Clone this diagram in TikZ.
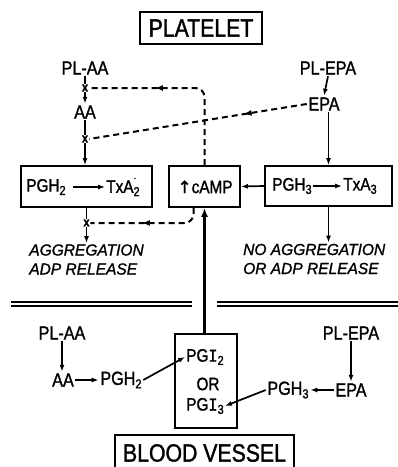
\documentclass[tikz,border=0pt]{standalone}
\usepackage{fontspec}
\usetikzlibrary{arrows.meta,decorations.markings}
% lettering: a slightly condensed, slightly heavy grotesque
\newfontfamily\lett[FakeStretch=0.85, FakeBold=1.3]{Liberation Sans}
\newfontfamily\lettit[FakeStretch=0.97, FakeBold=1.2]{Liberation Sans}
\newfontfamily\symfont[FakeBold=1]{DejaVu Sans}
\newfontfamily\serifI[FakeStretch=0.85, FakeBold=1.3]{Liberation Mono}
\newcommand\sbs[1]{\raisebox{-0.35ex}{\fontsize{13}{13}\selectfont #1}}
\newcommand\seI{{\serifI I}}
\newcommand\hdot{\makebox[0pt][l]{\raisebox{1.45ex}{\fontsize{11}{11}\selectfont .}}}
\tikzset{
  lbl/.style={font=\lett\fontsize{19}{19}\selectfont, inner sep=1.5pt},
  boxlbl/.style={font=\lett\fontsize{18}{18}\selectfont, inner sep=1pt},
  title/.style={draw, line width=1.6pt, font=\lett\fontsize{25}{25}\selectfont, inner sep=0pt},
  frame/.style={draw, line width=1.8pt, inner sep=0pt},
  note/.style={font=\lettit\itshape\fontsize{16}{19}\selectfont, align=left, inner sep=1pt},
  cross/.style={font=\lett\bfseries\fontsize{13}{13}\selectfont, fill=white, inner sep=0.6pt},
  flow/.style={line width=1.7pt, -{Latex[length=7pt,width=5pt]}},
  bigflow/.style={line width=2.3pt, -{Latex[length=9pt,width=7pt]}},
  inhib/.style={line width=2pt, dash pattern=on 6pt off 4pt, rounded corners=9pt,
    postaction={decorate},
    decoration={markings, mark=at position #1 with {\arrow{Latex[length=8pt,width=6pt]}}}},
  inhib/.default=0.5,
  sep/.style={line width=1.5pt}
}
\begin{document}
\begin{tikzpicture}[x=1pt,y=-1pt]
\useasboundingbox[fill=white] (0,0) rectangle (398,467);

% ---- platelet compartment ----
\node[title, minimum width=122pt, minimum height=32pt] (platelet) at (201,28) {PLATELET};

\node[lbl] (plaa) at (85,68) {PL-AA};
\node[lbl] (aa) at (85,112) {AA};
\node[lbl] (plepa) at (328,68) {PL-EPA};
\node[lbl] (epa) at (324,104) {EPA};

\node[frame, minimum width=131pt, minimum height=41pt] (pgh2b) at (86.5,186.5) {};
\node[boxlbl] (pgh2t) at (46,187) {PGH\sbs{2}};
\node[boxlbl] (txa2) at (123,187) {TxA\hdot\sbs{2}};

\node[frame, minimum width=71pt, minimum height=41pt] (campb) at (204.5,186.5) {};
\node[boxlbl] (camp) at (205,187) {{\symfont\fontsize{17}{17}\selectfont ↑}cAMP};

\node[frame, minimum width=127pt, minimum height=40pt] (pgh3b) at (328.5,186) {};
\node[boxlbl] (pgh3t) at (292,186) {PGH\sbs{3}};
\node[boxlbl] (txa3) at (360,186) {TxA\sbs{3}};

\node[cross] (xa) at (85,88) {x};
\node[cross] (xb) at (85,139) {x};
\node[cross] (xc) at (86.5,223) {x};

\node[note] (agg) at (86.5,259.5) {AGGREGATION\\ADP RELEASE};
\node[note, anchor=west] (noagg) at (242,259) {NO AGGREGATION\\OR ADP RELEASE};

% solid pathways
\draw[flow] (plaa.south) -- (aa.north);
\draw[flow] (aa.south) -- (aa.south |- pgh2b.north);
\draw[flow] (pgh2b.south) -- (pgh2b.south |- agg.north);
\draw[flow, shorten <=6pt] (pgh2t.east) -- (txa2.west);
\draw[flow] (pgh3t.east) -- (txa3.west);
\draw[flow] (plepa.south) -- (epa.north);
\draw[flow] (epa.south -| pgh3b.north) -- (pgh3b.north);
\draw[flow] (pgh3b.west) -- (campb.east);
\draw[flow] (pgh3b.south) -- (pgh3b.south |- noagg.north);

% inhibitory (dashed) pathways
\draw[inhib=0.65] (campb.north) -- (campb.north |- xa) -- (xa.east);
\draw[inhib=0.29] (epa.west) -- (xb.east);
\draw[inhib=0.55] ([xshift=-11pt]campb.south) -- ([xshift=-11pt]campb.south |- xc) -- (xc.east);

% redraw crosses above the lines
\node[cross] at (xa) {x};
\node[cross] at (xb) {x};
\node[cross] at (xc) {x};

% ---- separating double lines ----
\draw[sep] (11,302) -- (192,302);
\draw[sep] (11,306) -- (192,306);
\draw[sep] (217,302) -- (398,302);
\draw[sep] (217,306) -- (398,306);

% ---- blood vessel compartment ----
\node[frame, minimum width=62pt, minimum height=94pt] (pgib) at (206,381) {};
\node[boxlbl] (pgi2) at (205,357) {PG\seI\sbs{2}};
\node[boxlbl] (orr) at (208,384) {OR};
\node[boxlbl] (pgi3) at (205,406) {PG\seI\sbs{3}};

\draw[bigflow] (campb.south |- pgib.north) -- (campb.south);

\node[lbl] (plaa2) at (62,333) {PL-AA};
\node[lbl] (aa2) at (63,380) {AA};
\node[lbl] (pgh2c) at (121,380) {PGH\sbs{2}};
\node[lbl] (plepa2) at (351,333) {PL-EPA};
\node[lbl] (epa2) at (351,390) {EPA};
\node[lbl] (pgh3c) at (288,390) {PGH\sbs{3}};

\draw[flow] (plaa2.south) -- (plaa2.south |- aa2.north);
\draw[flow] (aa2.east) -- (pgh2c.west);
\draw[flow] (pgh2c.east) -- (pgi2.west);
\draw[flow] (plepa2.south) -- (epa2.north);
\draw[flow] (epa2.west) -- (pgh3c.east);
\draw[flow] (pgh3c.west) -- (pgi3.east);

\node[title, minimum width=179pt, minimum height=36pt] (vessel) at (204.5,453) {BLOOD VESSEL};
\end{tikzpicture}
\end{document}
